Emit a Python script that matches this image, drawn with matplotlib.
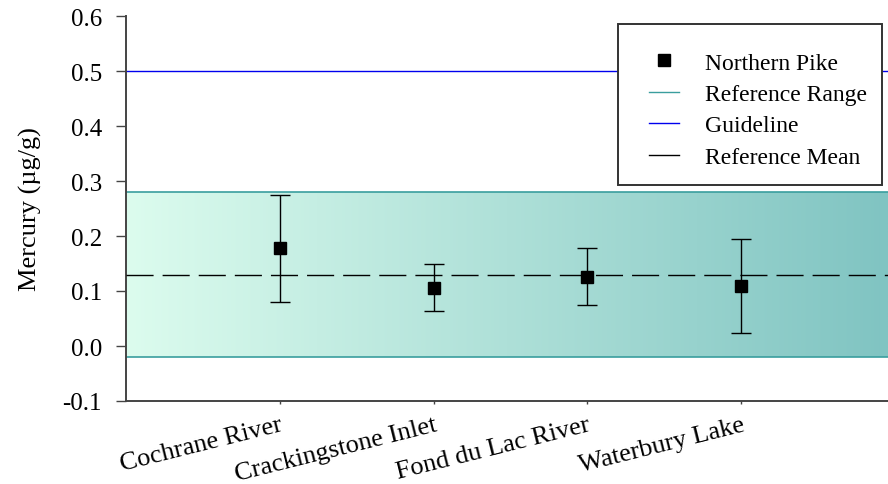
import numpy as np
import matplotlib
matplotlib.use("Agg")
import matplotlib.pyplot as plt
from matplotlib.colors import LinearSegmentedColormap
from matplotlib.lines import Line2D
from matplotlib.patches import Rectangle

plt.rcParams['font.family'] = ['Liberation Serif', 'DejaVu Serif']

# Sites and mercury concentrations in northern pike
sites = ["Cochrane River", "Crackingstone Inlet", "Fond du Lac River", "Waterbury Lake"]
site_pos = [1, 2, 3, 4]
means = [0.178, 0.106, 0.126, 0.109]
upper = [0.275, 0.149, 0.178, 0.194]
lower = [0.080, 0.064, 0.074, 0.023]

ref_low, ref_high = -0.02, 0.28
ref_mean = 0.13
guideline = 0.5

W, H = 888, 485
fig = plt.figure(figsize=(W / 100, H / 100), dpi=100)
ax = fig.add_axes([126 / W, 1 - 402 / H, (W - 126) / W, (402 - 17) / H])
xmin, xmax = 0, 4.955
ax.set_xlim(xmin, xmax)
ax.set_ylim(-0.1, 0.6)

# reference range band with a horizontal gradient
cmap = LinearSegmentedColormap.from_list("band", ["#dcfcee", "#80c4c2"])
grad = np.linspace(0, 1, 256).reshape(1, -1)
ax.imshow(grad, cmap=cmap, aspect='auto', extent=[xmin, xmax, ref_low, ref_high],
          zorder=1, interpolation='bilinear')
ax.axhline(ref_high, color="#3a9e9e", lw=1.2, zorder=2)
ax.axhline(ref_low, color="#3a9e9e", lw=1.2, zorder=2)
ax.axhline(guideline, color="#0000ee", lw=1.0, zorder=2)
ax.axhline(ref_mean, color="black", lw=1.0, dashes=(19.5, 6.5), zorder=3)

yerr = [np.array(means) - np.array(lower), np.array(upper) - np.array(means)]
ax.errorbar(site_pos, means, yerr=yerr, fmt='s', color='black', ms=8,
            ecolor='black', elinewidth=1.0, capsize=7, capthick=1.0, zorder=4)

ax.set_xticks(site_pos)
ax.set_xticklabels(sites, rotation=14, ha='right', rotation_mode='anchor', fontsize=19)
for lbl in ax.get_xticklabels():
    lbl.set_x(lbl.get_position()[0])
yt = np.arange(-0.1, 0.61, 0.1)
ax.set_yticks(yt)
ax.set_yticklabels([f"{v:.1f}" for v in yt], fontsize=18)
ax.tick_params(axis='y', direction='out', length=7.2, width=1, color='#444444', pad=10)
ax.tick_params(axis='x', direction='out', length=2, width=1, color='#444444', pad=7)
ax.set_ylabel("Mercury (µg/g)", fontsize=19)
ax.yaxis.set_label_coords(-0.110, 0.5)

for s in ['top', 'right']:
    ax.spines[s].set_visible(False)
for s in ['left', 'bottom']:
    ax.spines[s].set_color('#444444')
    ax.spines[s].set_linewidth(1.4)

# legend frame
frame = Rectangle((618 / W, 1 - 186 / H), 264 / W, 161 / H, transform=fig.transFigure,
                  facecolor='white', edgecolor='#333333', lw=1.4, zorder=9, clip_on=False)
ax.add_patch(frame)

handles = [
    Line2D([], [], marker='s', color='black', ls='none', ms=8),
    Line2D([], [], color="#3a9e9e", lw=1.0),
    Line2D([], [], color="#0000ee", lw=1.0),
    Line2D([], [], color="black", lw=1.0),
]
labels = ["Northern Pike", "Reference Range", "Guideline", "Reference Mean"]
leg = ax.legend(handles, labels, loc='upper left',
                bbox_to_anchor=(649 / W, 1 - 53 / H), bbox_transform=fig.transFigure,
                fontsize=17, frameon=False, handlelength=1.27, handletextpad=1.1,
                borderpad=0, borderaxespad=0, labelspacing=0.42)
leg.set_zorder(10)

fig.savefig("out.png", dpi=100)
